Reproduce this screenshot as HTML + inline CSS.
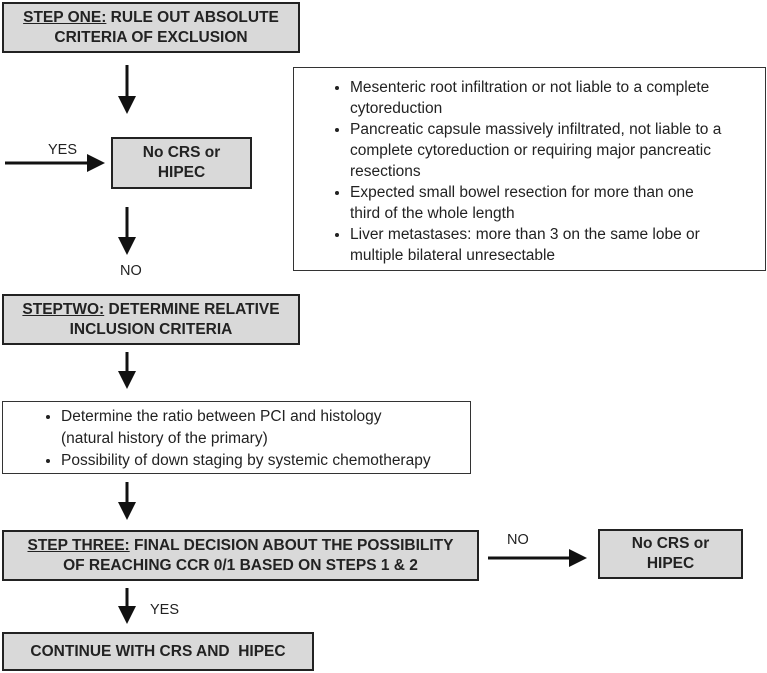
<!DOCTYPE html>
<html><head><style>
body{margin:0;width:767px;height:673px;background:#fff;position:relative;font-family:"Liberation Sans",Arial,sans-serif;color:#222;overflow:hidden}
.b{position:absolute;box-sizing:border-box;background:#d9d9d9;border:2px solid #222;display:flex;align-items:center;justify-content:center;text-align:center;font-weight:bold;font-size:15.5px;line-height:20px}
.w{position:absolute;box-sizing:border-box;background:#fff;border:1px solid #333;font-size:15.5px;line-height:21px}
.w ul{margin:0;padding-left:0}
.w li{margin-left:0}
.l{position:absolute;font-size:14.5px}
u{text-decoration:underline}
</style></head><body>
<div class="b" style="left:2px;top:2px;width:298px;height:51px"><div><u>STEP ONE:</u> RULE OUT ABSOLUTE<br>CRITERIA OF EXCLUSION</div></div>
<div class="b" style="left:111px;top:137px;width:141px;height:52px">No CRS or<br>HIPEC</div>
<div class="w" style="left:293px;top:67px;width:473px;height:204px;padding:9px 8px 0 56px"><ul>
<li>Mesenteric root infiltration or not liable to a complete<br>cytoreduction</li>
<li>Pancreatic capsule massively infiltrated, not liable to a<br>complete cytoreduction or requiring major pancreatic<br>resections</li>
<li>Expected small bowel resection for more than one<br>third of the whole length</li>
<li>Liver metastases: more than 3 on the same lobe or<br>multiple bilateral unresectable</li></ul></div>
<div class="b" style="left:2px;top:294px;width:298px;height:51px"><div><u>STEPTWO:</u> DETERMINE RELATIVE<br>INCLUSION CRITERIA</div></div>
<div class="w" style="left:2px;top:401px;width:469px;height:73px;padding:4px 6px 0 58px;line-height:22px"><ul>
<li>Determine the ratio between PCI and histology<br>(natural history of the primary)</li>
<li>Possibility of down staging by systemic chemotherapy</li></ul></div>
<div class="b" style="left:2px;top:530px;width:477px;height:51px"><div><u>STEP THREE:</u> FINAL DECISION ABOUT THE POSSIBILITY<br>OF REACHING CCR 0/1 BASED ON STEPS 1 &amp; 2</div></div>
<div class="b" style="left:598px;top:529px;width:145px;height:50px">No CRS or<br>HIPEC</div>
<div class="b" style="left:2px;top:632px;width:312px;height:39px">CONTINUE WITH CRS AND&nbsp; HIPEC</div>
<div class="l" style="left:48px;top:142px">YES</div>
<div class="l" style="left:120px;top:263px">NO</div>
<div class="l" style="left:507px;top:532px">NO</div>
<div class="l" style="left:150px;top:602px">YES</div>
<svg width="767" height="673" style="position:absolute;left:0;top:0">
<defs><marker id="a" markerWidth="6" markerHeight="6" refX="5" refY="3" orient="auto" markerUnits="strokeWidth"><path d="M0,0L6,3L0,6z" fill="#111"/></marker></defs>
<g stroke="#111" stroke-width="3" fill="none">
<line x1="127" y1="65" x2="127" y2="111" marker-end="url(#a)"/>
<line x1="5" y1="163" x2="102" y2="163" marker-end="url(#a)"/>
<line x1="127" y1="207" x2="127" y2="252" marker-end="url(#a)"/>
<line x1="127" y1="352" x2="127" y2="386" marker-end="url(#a)"/>
<line x1="127" y1="482" x2="127" y2="517" marker-end="url(#a)"/>
<line x1="488" y1="558" x2="584" y2="558" marker-end="url(#a)"/>
<line x1="127" y1="588" x2="127" y2="621" marker-end="url(#a)"/>
</g></svg>
</body></html>
